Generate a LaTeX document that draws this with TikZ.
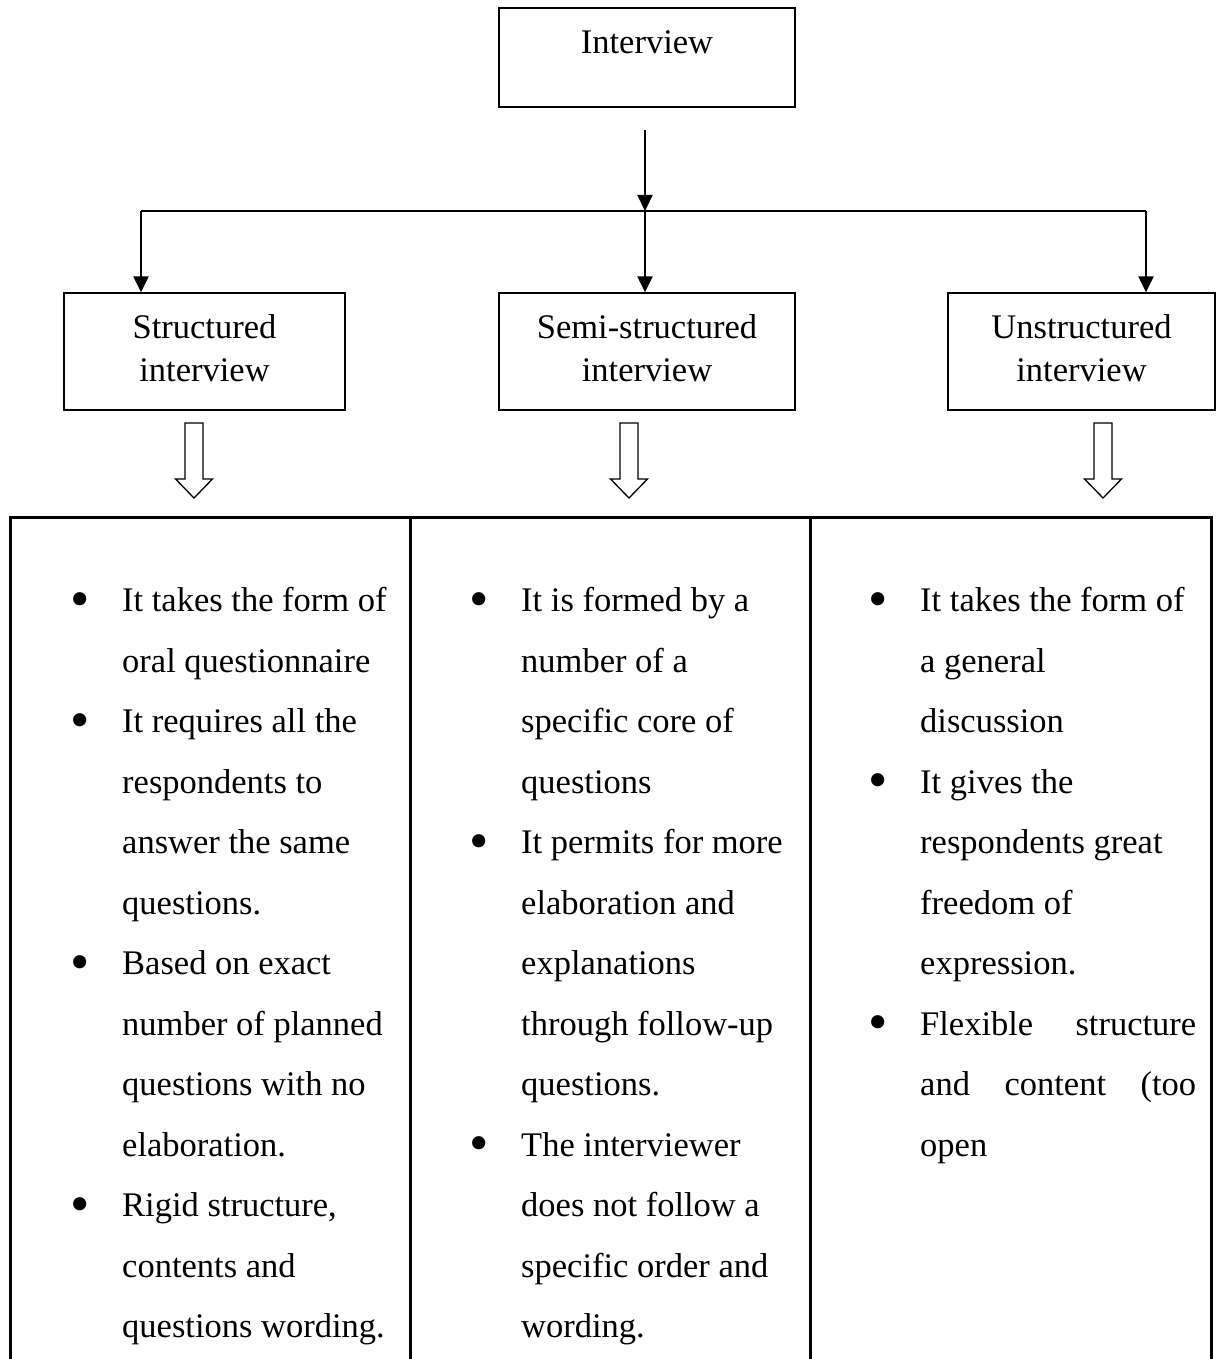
\documentclass[tikz,border=0pt]{standalone}
\usepackage{fontspec}
\setmainfont{Liberation Serif}
\usetikzlibrary{arrows.meta, positioning}
\tikzset{
  kind/.style={draw, line width=1.3pt, inner sep=0pt, align=center, font=\fontsize{34.5}{43}\selectfont,
    execute at end node=\vphantom{p}},
  points/.style={anchor=north west, inner sep=0pt, align=left, font=\fontsize{34.5}{60.5}\selectfont},
  link/.style={line width=2.2pt, -{Triangle[length=16pt,width=15pt]}},
  tablerule/.style={line width=3pt}
}
\newcommand{\itemdot}{\llap{\raisebox{-5.5pt}{\scalebox{1.6}{\textbullet}}\hspace{32pt}}}

\begin{document}
\begin{tikzpicture}[x=1pt, y=-1pt]
\tikzset{
  hollow/.pic={\draw[line width=1.3pt] (-9,0) -- (9,0) -- (9,56) -- (18.5,56) -- (0,75) -- (-18.5,56) -- (-9,56) -- cycle;}
}
\useasboundingbox (0,0) rectangle (1217,1359);

% boxes
\node[kind, minimum width=296pt, minimum height=99pt, text height=24pt, text depth=32pt] (interview) at (647,57.5) {Interview};
\node[kind, minimum width=281pt, minimum height=117pt] (structured) at (204.5,351.5) {Structured\\interview};
\node[kind, minimum width=296pt, minimum height=117pt] (semi) at (647,351.5) {Semi-structured\\interview};
\node[kind, minimum width=267pt, minimum height=117pt] (unstructured) at (1081.5,351.5) {Unstructured\\interview};

% fork
\coordinate (stem) at (645,130);
\coordinate (fork) at (645,211);
\coordinate (forkL) at (141,211);
\coordinate (forkR) at (1146,211);

\draw[link] (stem) -- (fork);
\draw[line width=2.2pt] (forkL) -- (forkR);
\draw[link] (forkL) -- (forkL |- structured.north);
\draw[link] (fork) -- (fork |- semi.north);
\draw[link] (forkR) -- (forkR |- unstructured.north);

\pic at (194,423) {hollow};
\pic at (629,423) {hollow};
\pic at (1103,423) {hollow};

% table
\draw[tablerule] (10,1370) -- (10,517) -- (1211,517) -- (1211,1370);
\draw[tablerule] (410,517) -- (410,1370);
\draw[tablerule] (810,517) -- (810,1370);

\node[points] (structpts) at (122,587) {%
\itemdot It takes the form of\\
oral questionnaire\\
\itemdot It requires all the\\
respondents to\\
answer the same\\
questions.\\
\itemdot Based on exact\\
number of planned\\
questions with no\\
elaboration.\\
\itemdot Rigid structure,\\
contents and\\
questions wording.};

\node[points] (semipts) at (521,587) {%
\itemdot It is formed by a\\
number of a\\
specific core of\\
questions\\
\itemdot It permits for more\\
elaboration and\\
explanations\\
through follow-up\\
questions.\\
\itemdot The interviewer\\
does not follow a\\
specific order and\\
wording.};

\node[points] (unstructpts) at (920,587) {%
\itemdot It takes the form of\\
a general\\
discussion\\
\itemdot It gives the\\
respondents great\\
freedom of\\
expression.\\
\itemdot\hbox to 276pt{Flexible\hfill structure}\\
\hbox to 276pt{and\hfill content\hfill (too}\\
open};
\end{tikzpicture}
\end{document}
